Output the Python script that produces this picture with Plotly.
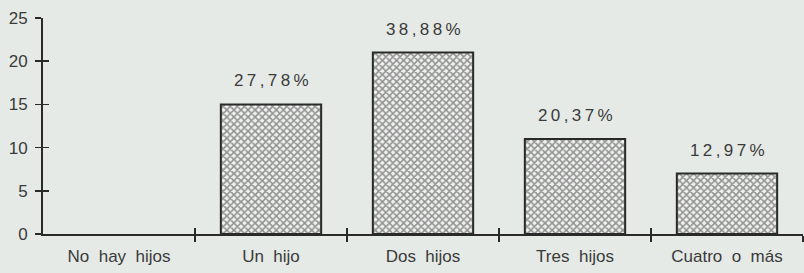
import plotly.graph_objects as go

categories = ["No hay hijos", "Un hijo", "Dos hijos", "Tres hijos", "Cuatro o más"]
values = [0, 15, 21, 11, 7]
pct_labels = ["", "27,78%", "38,88%", "20,37%", "12,97%"]
y_ticks = [0, 5, 10, 15, 20, 25]

NB = "\u00a0"
def spaced(s):
    return s.replace(" ", NB + NB)

def letterspace(s):
    return "\u2009".join(list(s))

BG = "#e5eae6"
INK = "#3a3a3a"
FONT = "Liberation Sans, Arial, sans-serif"

x_pos = list(range(len(categories)))
dividers = [i + 0.5 for i in range(len(categories))]

fig = go.Figure()
fig.add_trace(go.Bar(
    x=x_pos, y=values, width=0.66,
    marker=dict(color=BG,
                line=dict(color="#2a2a2a", width=[0 if v == 0 else 2 for v in values]),
                pattern=dict(shape="x", fgcolor="#333333", bgcolor="#f0f2f0",
                             size=5, solidity=0.55)),
    hoverinfo="skip", showlegend=False,
))
fig.add_trace(go.Scatter(x=[0], y=[0], xaxis="x2", yaxis="y2", mode="markers",
                         marker=dict(opacity=0), showlegend=False, hoverinfo="skip"))
fig.add_trace(go.Scatter(x=[0], y=[0], xaxis="x3", yaxis="y", mode="markers",
                         marker=dict(opacity=0), showlegend=False, hoverinfo="skip"))

for xi, v, t in zip(x_pos, values, pct_labels):
    if t:
        fig.add_annotation(x=xi, y=v, text=letterspace(t), showarrow=False,
                           yanchor="bottom", yshift=12,
                           font=dict(family=FONT, size=17, color=INK))

xr = [-0.5, 4.5]
yr = [0, 25]
fig.update_layout(
    width=804, height=273,
    margin=dict(l=43, r=1, t=18, b=39),
    paper_bgcolor=BG, plot_bgcolor=BG,
    xaxis=dict(range=xr, tickvals=dividers, ticks="outside", ticklen=6, tickwidth=1.5,
               tickcolor="#2a2a2a", showticklabels=False, showline=True,
               linecolor="#2a2a2a", linewidth=2, showgrid=False, zeroline=False,
               automargin=False),
    xaxis2=dict(range=xr, overlaying="x", anchor="y", side="bottom",
                tickvals=dividers, ticks="inside", ticklen=6, tickwidth=1.5,
                tickcolor="#2a2a2a", showticklabels=False, showline=False,
                showgrid=False, zeroline=False, automargin=False),
    xaxis3=dict(range=xr, overlaying="x", anchor="y", side="bottom",
                tickvals=x_pos, ticktext=[spaced(c) for c in categories],
                ticks="", showline=False, showgrid=False, zeroline=False,
                ticklabelstandoff=10, automargin=False,
                tickfont=dict(family=FONT, size=17, color=INK)),
    yaxis=dict(range=yr, tickvals=y_ticks, ticks="outside", ticklen=6, tickwidth=1.5,
               tickcolor="#2a2a2a", showline=True, linecolor="#2a2a2a", linewidth=2,
               showgrid=False, zeroline=False, automargin=False,
               ticklabelstandoff=4,
               tickfont=dict(family=FONT, size=17, color=INK)),
    yaxis2=dict(range=yr, overlaying="y", anchor="x", side="left",
                tickvals=y_ticks, ticks="inside", ticklen=6, tickwidth=1.5,
                tickcolor="#2a2a2a", showticklabels=False, showline=False,
                showgrid=False, zeroline=False, automargin=False),
)

fig.write_html("out.html", config={"displayModeBar": False, "staticPlot": True},
               post_script="document.body.style.margin='0';document.body.style.overflow='hidden';document.body.style.background='" + BG + "';")
